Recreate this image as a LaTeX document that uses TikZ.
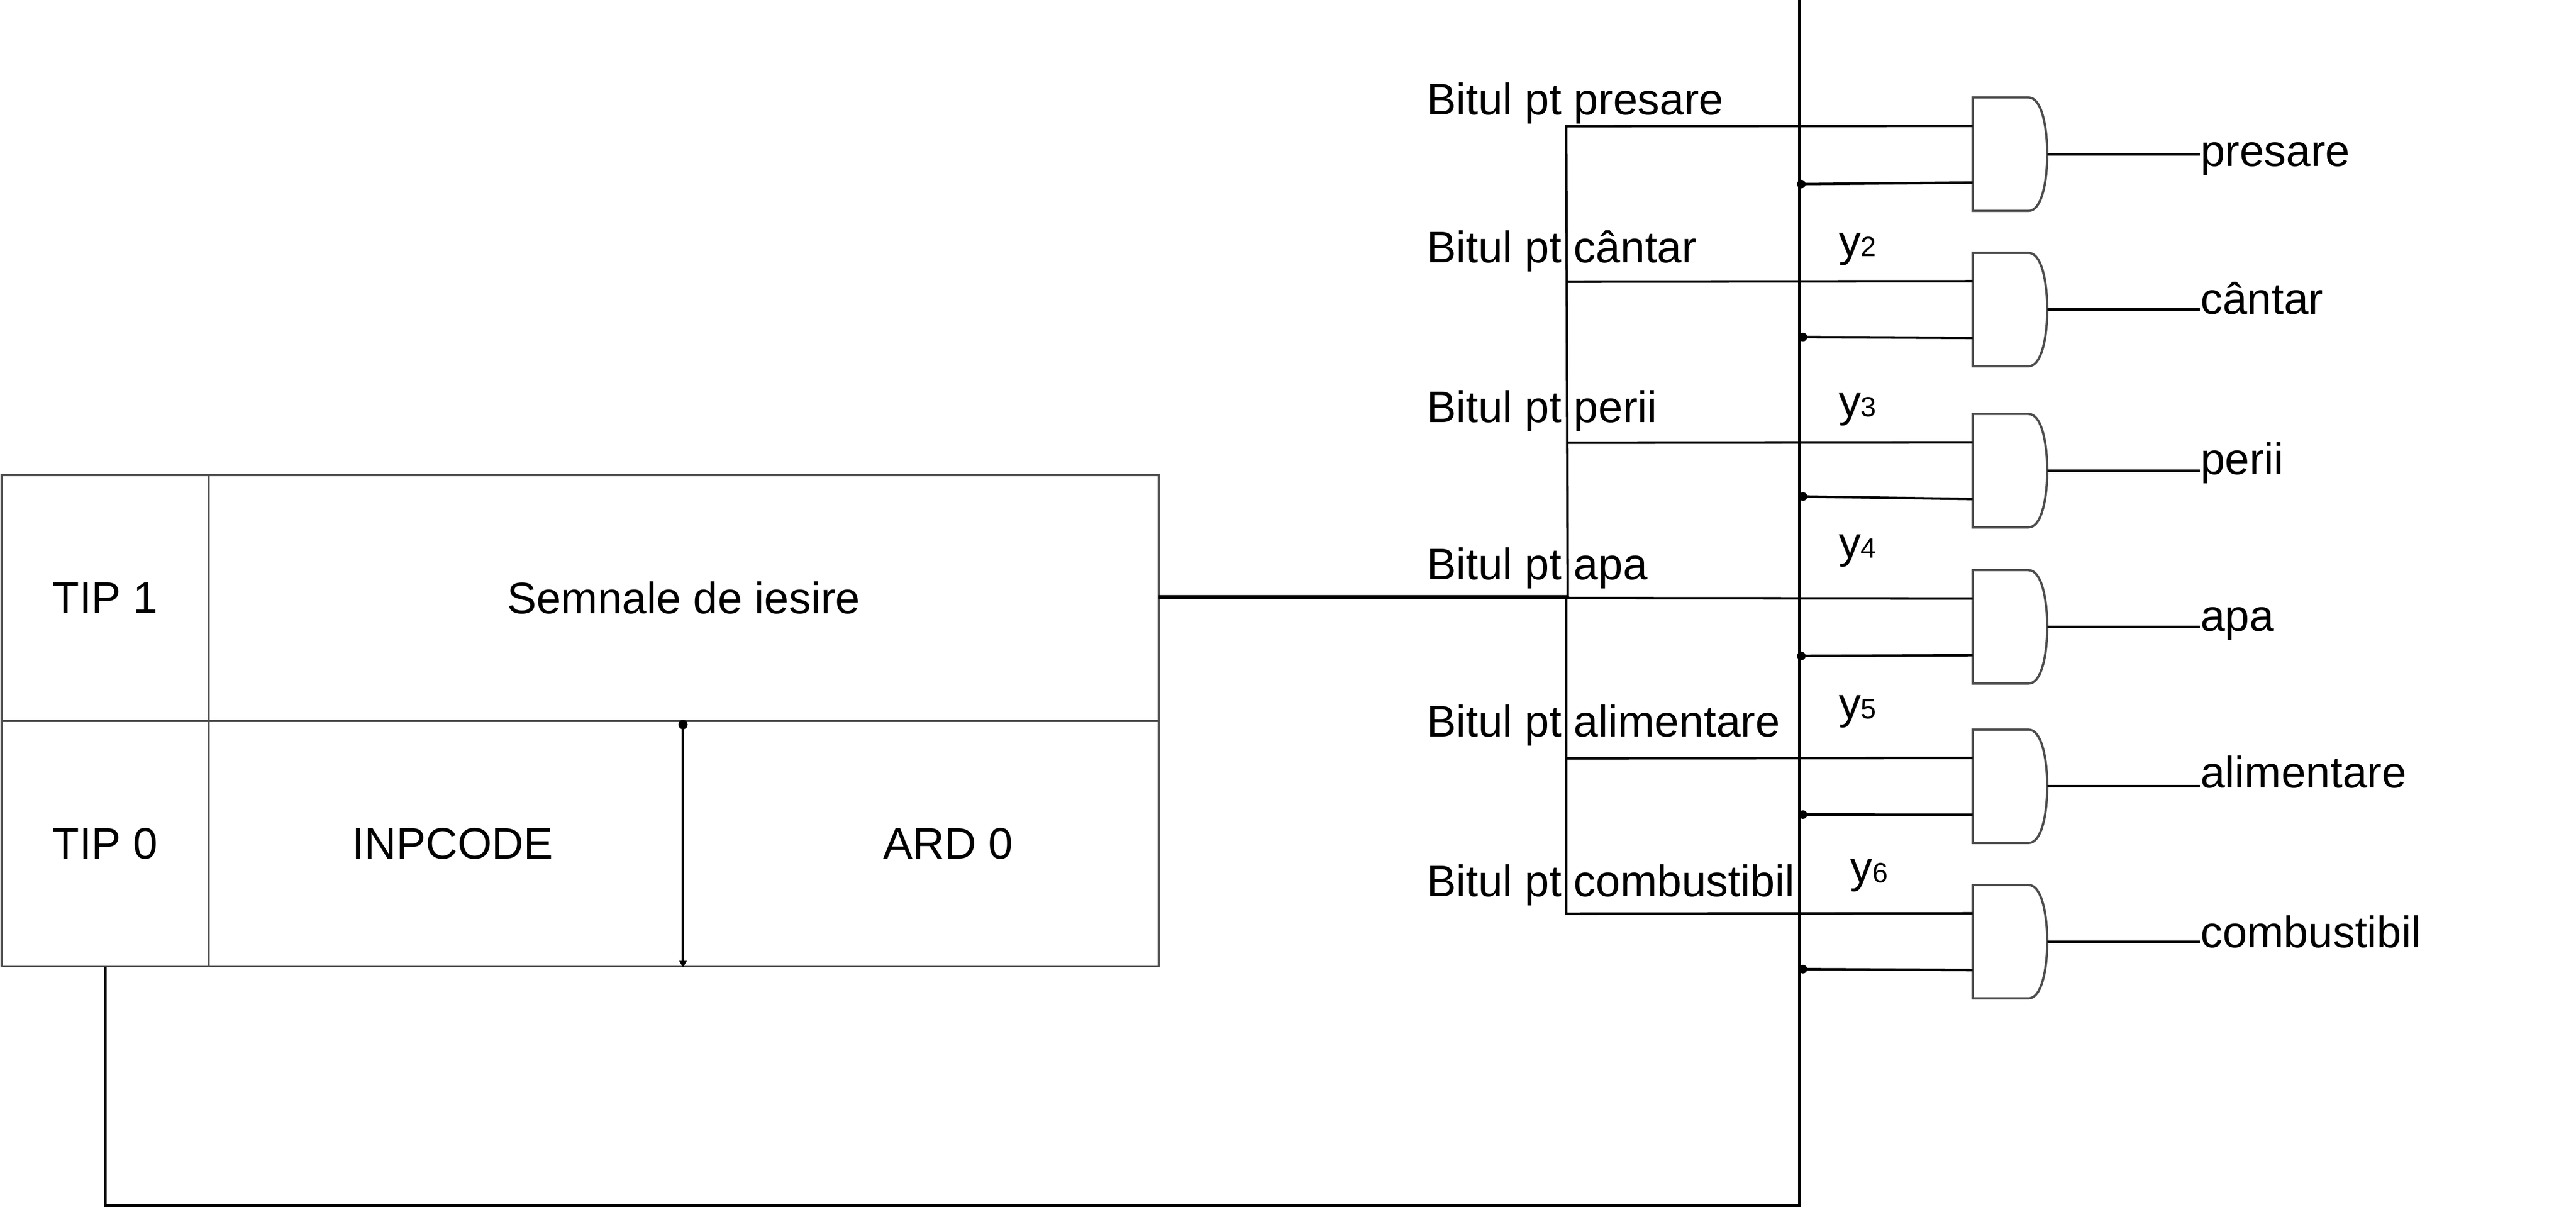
\documentclass[tikz,border=0pt]{standalone}
\usepackage{fontspec}
\setmainfont{Liberation Sans}
\usetikzlibrary{arrows.meta,calc}
\definecolor{cellgray}{HTML}{4D4D4D}
\tikzset{
  wire/.style={draw=black,line width=1.5pt},
  cell/.style={draw=cellgray,line width=1.15pt,rectangle,minimum width=#1,minimum height=149.5pt,inner sep=0pt,
    font=\fontsize{26.85}{32}\selectfont},
  txt/.style={inner sep=0pt,font=\fontsize{26.85}{32}\selectfont},
  lbl/.style={txt,anchor=base west},
  gatebox/.style={rectangle,minimum width=45pt,minimum height=68.6pt,inner sep=0pt},
  gateline/.style={draw=cellgray,line width=1.4pt},
  dot/.style={wire,{Circle[length=5.2pt,width=5.2pt]}-},
}
\newcommand{\subsz}[1]{{\fontsize{17}{17}\selectfont #1}}
\begin{document}
\begin{tikzpicture}[x=1pt,y=-1pt]
\useasboundingbox (0,0) rectangle (1567.5,734);
% table
\node[cell=126pt] (tip1) at (64,363.75) {TIP 1};
\node[cell=578pt] (sem) at (416,363.75) {Semnale de iesire};
\node[cell=126pt] (tip0) at (64,513.25) {TIP 0};
\node[cell=578pt] (low) at (416,513.25) {};
\node[txt] (inp) at (275.5,513.25) {INPCODE};
\node[txt] (ard) at (577,513.25) {ARD 0};
\coordinate (divt) at (415.6,438);
\coordinate (divb) at (415.6,588.5);
\draw[wire,{Circle[length=5.6pt,width=5.6pt]}-{Triangle[length=4pt,width=4.4pt]}] (divt) -- (divb);
% long return line
\coordinate (ret1) at (64,733.5);
\coordinate (ret2) at (1095,733.5);
\coordinate (ret3) at (1095,0);
\draw[wire] (tip0.south) -- (ret1) -- (ret2) -- (ret3);
% gates, inputs, outputs
\foreach \i/\t/\dx/\dy/\bb/\ob/\name in {
  1/59.5/1093.5/112/69.7/101/presare,
  2/154/1094.5/205/159.7/191/cântar,
  3/252/1094.5/302/257/288.7/perii,
  4/347/1093.5/399/352.5/384/apa,
  5/444/1094.5/495.5/448/479.3/alimentare,
  6/538.5/1094.5/589.5/545.2/576.3/combustibil}{
  \node[gatebox] (g\i) at (1223,\t+34.3) {};
  \draw[gateline] (g\i.north west) -- ($(g\i.north west)+(34,0)$)
    .. controls ($(g\i.north west)+(42,0)$) and ($(g\i.east)+(0,-17)$) .. (g\i.east)
    .. controls ($(g\i.east)+(0,17)$) and ($(g\i.south west)+(42,0)$) .. ($(g\i.south west)+(34,0)$)
    -- (g\i.south west) -- cycle;
  \coordinate (d\i) at (\dx,\dy);
  \draw[dot] (d\i) -- ([yshift=-17.25pt]g\i.west);
  \node[lbl] (out\i) at (1338.8,\ob) {\name};
  \draw[wire] (g\i.east) -- (1338.5,\t+34.3);
  \node[lbl] (bit\i) at (868,\bb) {Bitul pt \name};
}
% bus
\coordinate (src1) at (705,362.7);
\coordinate (src2) at (705,363.7);
\coordinate (b1) at (953,76.8);
\coordinate (b2) at (953.2,171.3);
\coordinate (b3) at (953.6,269.3);
\coordinate (bu) at (954,362.7);
\coordinate (bm) at (953,363.8);
\coordinate (b5) at (953,461.3);
\coordinate (b6) at (953,555.8);
\draw[wire] (src1) -- (bu) -- (b1) -- ([yshift=17.25pt]g1.west);
\draw[wire] (b2) -- ([yshift=17.25pt]g2.west);
\draw[wire] (b3) -- ([yshift=17.25pt]g3.west);
\draw[wire] (src2) -- (bm) -- ([yshift=17.25pt]g4.west);
\draw[wire] (bm) -- (b6) -- ([yshift=17.25pt]g6.west);
\draw[wire] (b5) -- ([yshift=17.25pt]g5.west);
% y labels
\node[lbl] (y2) at (1118.7,156) {y\subsz{2}};
\node[lbl] (y3) at (1118.7,253.5) {y\subsz{3}};
\node[lbl] (y4) at (1118.7,339.4) {y\subsz{4}};
\node[lbl] (y5) at (1118.7,437.3) {y\subsz{5}};
\node[lbl] (y6) at (1125.7,537) {y\subsz{6}};
\end{tikzpicture}
\end{document}
